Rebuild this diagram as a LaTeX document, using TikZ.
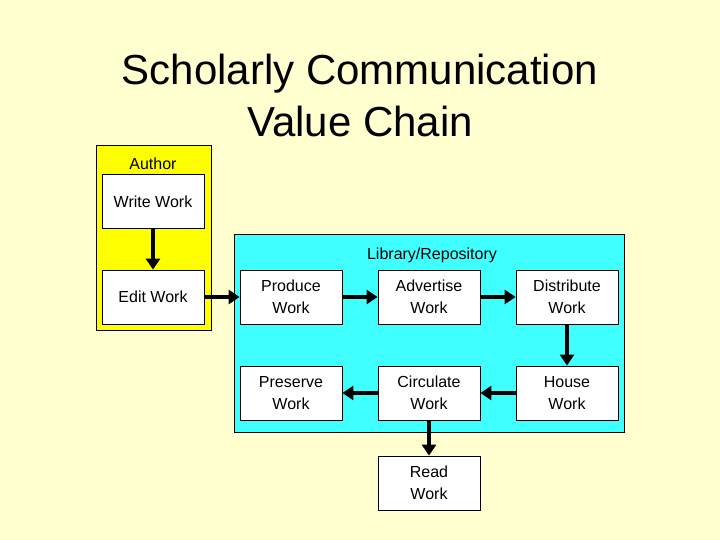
\documentclass[tikz,border=0pt]{standalone}
\usepackage{fontspec}
\setmainfont{Liberation Sans}
\usetikzlibrary{arrows.meta}
\definecolor{bg}{HTML}{FFFFD0}
\definecolor{authy}{HTML}{FFFF00}
\definecolor{libc}{HTML}{40FFFF}
\begin{document}
\begin{tikzpicture}[x=1pt,y=-1pt,
  wbox/.style={draw=black,fill=white,line width=0.8pt,minimum width=102pt,minimum height=54pt,align=center,font=\fontsize{16}{22}\selectfont,inner sep=0pt},
  arr/.style={line width=4pt,-{Triangle[width=14pt,length=11pt]}}]
\useasboundingbox (0,0) rectangle (720,540);
\fill[bg] (0,0) rectangle (720,540);
\node[font=\fontsize{42}{52}\selectfont,align=center] (title) at (360,95) {Scholarly Communication\\Value Chain};
\draw[fill=authy,line width=0.8pt] (96,145) rectangle (211,330);
\node[font=\fontsize{16}{20}\selectfont] (author) at (153,164) {Author};
\draw[fill=libc,line width=0.8pt] (234,234) rectangle (624,432);
\node[font=\fontsize{16}{20}\selectfont] (lib) at (432,255) {Library/Repository};
\node[wbox] (write) at (153,201.5) {Write Work};
\node[wbox] (edit) at (153,297) {Edit Work};
\node[wbox] (prod) at (291,297) {Produce\\ Work};
\node[wbox] (adv) at (429,297) {Advertise\\ Work};
\node[wbox] (dist) at (567,297) {Distribute\\ Work};
\node[wbox] (pres) at (291,393) {Preserve\\ Work};
\node[wbox] (circ) at (429,393) {Circulate\\ Work};
\node[wbox] (house) at (567,393) {House\\ Work};
\node[wbox] (read) at (429,483) {Read\\ Work};
\draw[arr] (write) -- (edit);
\draw[arr] (edit) -- (prod);
\draw[arr] (prod) -- (adv);
\draw[arr] (adv) -- (dist);
\draw[arr] (dist) -- (house);
\draw[arr] (house) -- (circ);
\draw[arr] (circ) -- (pres);
\draw[arr] (circ) -- (read);
\end{tikzpicture}
\end{document}
